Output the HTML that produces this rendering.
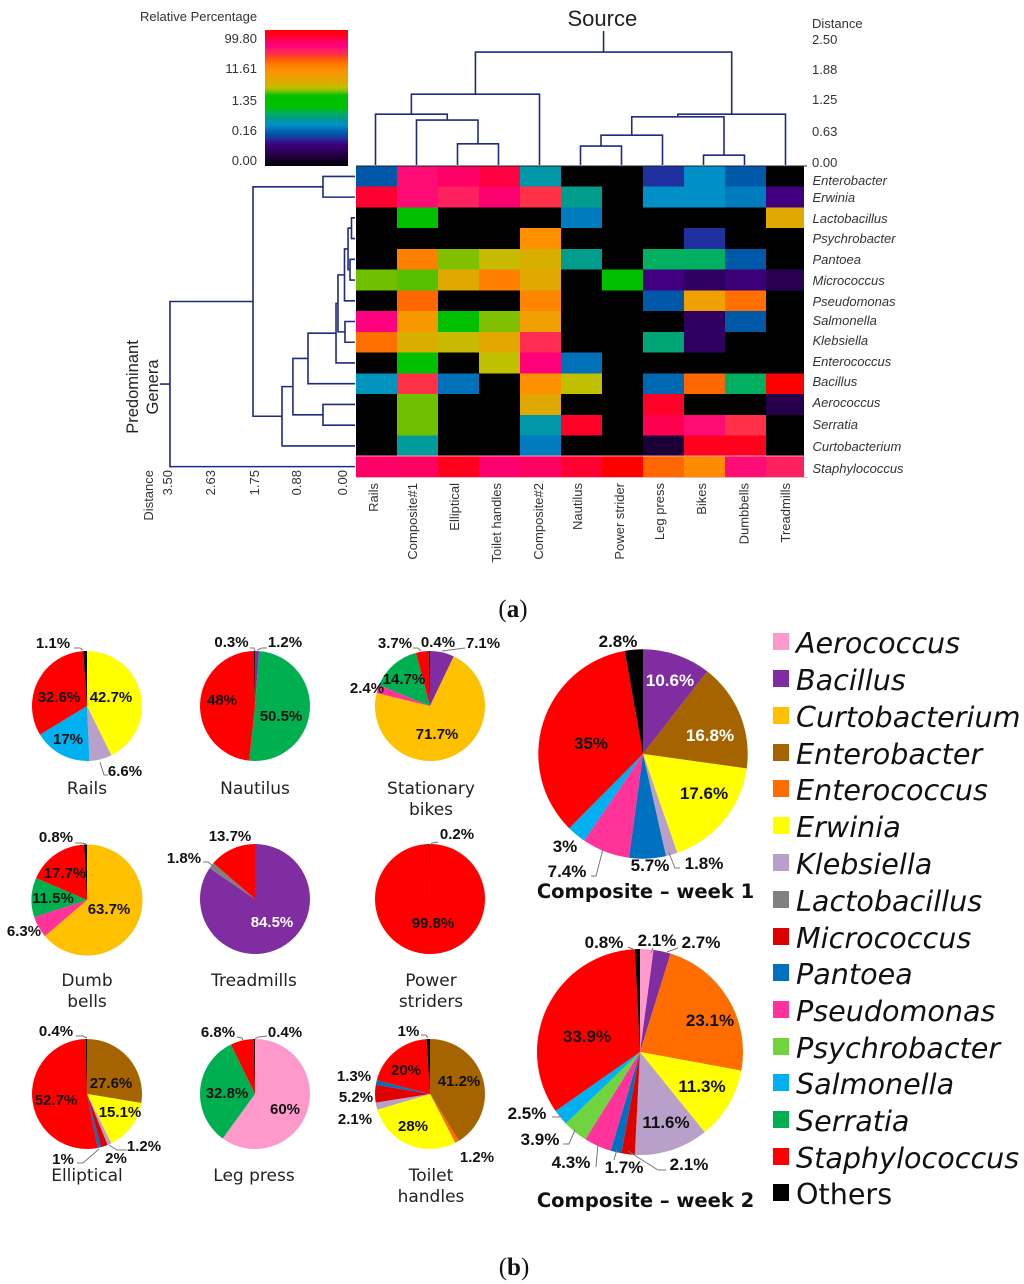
<!DOCTYPE html>
<html lang="en">
<head>
<meta charset="utf-8">
<title>Genera heatmap and pie charts</title>
<style>
html,body{margin:0;padding:0;background:#fff;}
svg{display:block;}
.ax{font-family:"Liberation Sans",sans-serif;font-size:13px;fill:#333;}
.sp{font-family:"Liberation Sans",sans-serif;font-size:13px;font-style:italic;fill:#333;}
.head{font-family:"Liberation Sans",sans-serif;fill:#222;}
.p{font-family:"Liberation Sans",sans-serif;font-weight:bold;font-size:15px;fill:#111;text-anchor:middle;}
.q{font-family:"Liberation Sans",sans-serif;font-weight:bold;font-size:17px;fill:#111;text-anchor:middle;}
.w{fill:#fff;}
.t{font-family:"DejaVu Sans",sans-serif;font-size:17px;fill:#222;text-anchor:middle;}
.ct{font-family:"DejaVu Sans",sans-serif;font-weight:bold;font-size:19.5px;fill:#111;text-anchor:middle;}
.lg{font-family:"DejaVu Sans",sans-serif;font-size:28.6px;font-style:italic;fill:#111;}
.cap{font-family:"Liberation Serif",serif;font-size:25px;fill:#111;text-anchor:middle;}
.ld{fill:none;stroke:#777;stroke-width:1;}
</style>
</head>
<body>
<svg xmlns="http://www.w3.org/2000/svg" width="1024" height="1284" viewBox="0 0 1024 1284">
<defs><linearGradient id="scaleGradient" x1="0" y1="1" x2="0" y2="0"></linearGradient></defs>
<rect width="1024" height="1284" fill="#fff"/>

<g id="heatPanel">
<text class="ax" x="140" y="21">Relative Percentage</text>
<rect id="colorBar" x="265" y="30" width="83" height="136" fill="url(#scaleGradient)"/>
<g text-anchor="end">
<text class="ax" x="257" y="43">99.80</text>
<text class="ax" x="257" y="73">11.61</text>
<text class="ax" x="257" y="105">1.35</text>
<text class="ax" x="257" y="135">0.16</text>
<text class="ax" x="257" y="165">0.00</text>
</g>
<text class="head" x="567.5" y="26" font-size="22">Source</text>
<text class="ax" x="812" y="28">Distance</text>
<text class="ax" x="812" y="44">2.50</text>
<text class="ax" x="812" y="74">1.88</text>
<text class="ax" x="812" y="104">1.25</text>
<text class="ax" x="812" y="136">0.63</text>
<text class="ax" x="812" y="167">0.00</text>

<g id="heatCells"></g>
<line x1="356" y1="166" x2="807" y2="166" stroke="#222" stroke-width="1"/>
<line x1="356" y1="456" x2="804" y2="456" stroke="#f7a0b0" stroke-width="1"/>
<line x1="356" y1="477.5" x2="807" y2="477.5" stroke="#f8b0b8" stroke-width="1"/>
<g id="topDendrogram" fill="none" stroke="#1f2a80" stroke-width="1.6"></g>
<g id="leftDendrogram" fill="none" stroke="#1f2a80" stroke-width="1.6"></g>

<text class="sp" x="812.5" y="185">Enterobacter</text>
<text class="sp" x="812.5" y="202">Erwinia</text>
<text class="sp" x="812.5" y="223">Lactobacillus</text>
<text class="sp" x="812.5" y="243">Psychrobacter</text>
<text class="sp" x="812.5" y="264">Pantoea</text>
<text class="sp" x="812.5" y="285">Micrococcus</text>
<text class="sp" x="812.5" y="306">Pseudomonas</text>
<text class="sp" x="812.5" y="325">Salmonella</text>
<text class="sp" x="812.5" y="345">Klebsiella</text>
<text class="sp" x="812.5" y="366">Enterococcus</text>
<text class="sp" x="812.5" y="386">Bacillus</text>
<text class="sp" x="812.5" y="407">Aerococcus</text>
<text class="sp" x="812.5" y="429">Serratia</text>
<text class="sp" x="812.5" y="451">Curtobacterium</text>
<text class="sp" x="812.5" y="473">Staphylococcus</text>

<g text-anchor="end">
<text class="ax" transform="translate(378,483) rotate(-90)">Rails</text>
<text class="ax" transform="translate(417,483) rotate(-90)">Composite#1</text>
<text class="ax" transform="translate(459,483) rotate(-90)">Elliptical</text>
<text class="ax" transform="translate(501,483) rotate(-90)">Toilet handles</text>
<text class="ax" transform="translate(543,483) rotate(-90)">Composite#2</text>
<text class="ax" transform="translate(582,483) rotate(-90)">Nautilus</text>
<text class="ax" transform="translate(624,483) rotate(-90)">Power strider</text>
<text class="ax" transform="translate(664,483) rotate(-90)">Leg press</text>
<text class="ax" transform="translate(706,483) rotate(-90)">Bikes</text>
<text class="ax" transform="translate(748.7,483) rotate(-90)">Dumbbells</text>
<text class="ax" transform="translate(790,483) rotate(-90)">Treadmills</text>
<text class="ax" transform="translate(153,470) rotate(-90)">Distance</text>
<text class="ax" transform="translate(172,470) rotate(-90)">3.50</text>
<text class="ax" transform="translate(215,470) rotate(-90)">2.63</text>
<text class="ax" transform="translate(259,470) rotate(-90)">1.75</text>
<text class="ax" transform="translate(301,470) rotate(-90)">0.88</text>
<text class="ax" transform="translate(347,470) rotate(-90)">0.00</text>
</g>
<g text-anchor="middle">
<text class="head" font-size="16.5" transform="translate(138,387) rotate(-90)">Predominant</text>
<text class="head" font-size="16.5" transform="translate(158,387) rotate(-90)">Genera</text>
</g>
<text class="cap" x="513" y="617">(<tspan font-weight="bold">a</tspan>)</text>
</g>

<g id="pies"></g>

<g id="pieLeaders">
<polyline class="ld" points="74,648 80,648 83,650"/>
<polyline class="ld" points="100,762 104,775 108,775"/>
<polyline class="ld" points="250,648 254,648 255,651"/>
<polyline class="ld" points="267,648 262,648 257,650"/>
<polyline class="ld" points="413,648 418,648 421,651"/>
<polyline class="ld" points="465,648 450,650 442,651"/>
<polyline class="ld" points="75,843 82,843 86,844"/>
<polyline class="ld" points="203,862 208,862 213,866"/>
<polyline class="ld" points="438,842 432,843 430,845"/>
<polyline class="ld" points="76,1036 83,1036 87,1038"/>
<polyline class="ld" points="127,1150 117,1150 109,1145"/>
<polyline class="ld" points="77,1163 83,1163 99,1149"/>
<polyline class="ld" points="237,1037 242,1038 243,1040"/>
<polyline class="ld" points="267,1036 258,1037 255,1039"/>
<polyline class="ld" points="421,1035 426,1035 428,1038"/>
<polyline class="ld" points="591,876 596,876 603,849"/>
<polyline class="ld" points="680,868 675,868 669,853"/>
<polyline class="ld" points="628,947 635,950"/>
<polyline class="ld" points="653,948 651,953"/>
<polyline class="ld" points="678,948 667,952"/>
<polyline class="ld" points="552,1117 559,1117 563,1115"/>
<polyline class="ld" points="563,1144 569,1144 575,1130"/>
<polyline class="ld" points="596,1167 598,1143"/>
<polyline class="ld" points="614,1160 617,1149"/>
<polyline class="ld" points="666,1170 658,1170 628,1151"/>
</g>

<g id="pieLabels">
<text class="p" x="53" y="648">1.1%</text>
<text class="p" x="59" y="702">32.6%</text>
<text class="p" x="111" y="702">42.7%</text>
<text class="p" x="68" y="744">17%</text>
<text class="p" x="125" y="776">6.6%</text>
<text class="t" x="87" y="794">Rails</text>

<text class="p" x="231.5" y="647">0.3%</text>
<text class="p" x="285" y="647">1.2%</text>
<text class="p" x="222" y="705">48%</text>
<text class="p" x="281" y="721">50.5%</text>
<text class="t" x="255" y="794">Nautilus</text>

<text class="p" x="395" y="648">3.7%</text>
<text class="p" x="438" y="647">0.4%</text>
<text class="p" x="483" y="648">7.1%</text>
<text class="p" x="404" y="684">14.7%</text>
<text class="p" x="367" y="693">2.4%</text>
<text class="p" x="437" y="739">71.7%</text>
<text class="t" x="431" y="794">Stationary</text>
<text class="t" x="431" y="815">bikes</text>

<text class="p" x="56" y="842">0.8%</text>
<text class="p" x="65" y="878">17.7%</text>
<text class="p" x="53" y="903">11.5%</text>
<text class="p" x="109" y="914">63.7%</text>
<text class="p" x="24" y="936">6.3%</text>
<text class="t" x="87" y="986">Dumb</text>
<text class="t" x="87" y="1007">bells</text>

<text class="p" x="230" y="841">13.7%</text>
<text class="p" x="184" y="863">1.8%</text>
<text class="p w" x="272" y="927">84.5%</text>
<text class="t" x="254" y="986">Treadmills</text>

<text class="p" x="457" y="839">0.2%</text>
<text class="p" x="433" y="928">99.8%</text>
<text class="t" x="431" y="986">Power</text>
<text class="t" x="431" y="1007">striders</text>

<text class="p" x="56" y="1036">0.4%</text>
<text class="p" x="111" y="1088">27.6%</text>
<text class="p" x="56" y="1105">52.7%</text>
<text class="p" x="120" y="1117">15.1%</text>
<text class="p" x="144" y="1151">1.2%</text>
<text class="p" x="116" y="1163">2%</text>
<text class="p" x="63" y="1164">1%</text>
<text class="t" x="87" y="1181">Elliptical</text>

<text class="p" x="218" y="1037">6.8%</text>
<text class="p" x="285" y="1037">0.4%</text>
<text class="p" x="227" y="1098">32.8%</text>
<text class="p" x="285" y="1114">60%</text>
<text class="t" x="254" y="1181">Leg press</text>

<text class="p" x="408.5" y="1036">1%</text>
<text class="p" x="406" y="1075">20%</text>
<text class="p" x="459" y="1086">41.2%</text>
<text class="p" x="354" y="1081">1.3%</text>
<text class="p" x="356" y="1102">5.2%</text>
<text class="p" x="355" y="1124">2.1%</text>
<text class="p" x="413" y="1131">28%</text>
<text class="p" x="477" y="1162">1.2%</text>
<text class="t" x="431" y="1181">Toilet</text>
<text class="t" x="431" y="1202">handles</text>

<text class="q" x="618" y="647">2.8%</text>
<text class="q w" x="670" y="686">10.6%</text>
<text class="q w" x="710" y="741">16.8%</text>
<text class="q" x="591" y="749">35%</text>
<text class="q" x="704" y="799">17.6%</text>
<text class="q" x="565" y="852">3%</text>
<text class="q" x="567" y="877">7.4%</text>
<text class="q" x="650" y="871">5.7%</text>
<text class="q" x="704" y="869">1.8%</text>
<text class="ct" x="645.5" y="898">Composite – week 1</text>

<text class="q" x="604" y="948">0.8%</text>
<text class="q" x="657" y="946">2.1%</text>
<text class="q" x="701" y="948">2.7%</text>
<text class="q" x="710" y="1026">23.1%</text>
<text class="q" x="587" y="1042">33.9%</text>
<text class="q" x="702" y="1092">11.3%</text>
<text class="q" x="666" y="1128">11.6%</text>
<text class="q" x="527" y="1119">2.5%</text>
<text class="q" x="540" y="1145">3.9%</text>
<text class="q" x="571" y="1168">4.3%</text>
<text class="q" x="624" y="1173">1.7%</text>
<text class="q" x="689" y="1170">2.1%</text>
<text class="ct" x="645.5" y="1207">Composite – week 2</text>
</g>

<g id="legend">
<rect x="773" y="633" width="16" height="17" fill="#ff99cc"/>
<text class="lg" x="796" y="653">Aerococcus</text>
<rect x="773" y="670" width="16" height="17" fill="#7f2da0"/>
<text class="lg" x="796" y="690">Bacillus</text>
<rect x="773" y="707" width="16" height="17" fill="#ffc000"/>
<text class="lg" x="796" y="727">Curtobacterium</text>
<rect x="773" y="744" width="16" height="17" fill="#a66400"/>
<text class="lg" x="796" y="764">Enterobacter</text>
<rect x="773" y="780" width="16" height="17" fill="#ff6d00"/>
<text class="lg" x="796" y="800">Enterococcus</text>
<rect x="773" y="817" width="16" height="17" fill="#ffff00"/>
<text class="lg" x="796" y="837">Erwinia</text>
<rect x="773" y="854" width="16" height="17" fill="#b9a0cb"/>
<text class="lg" x="796" y="874">Klebsiella</text>
<rect x="773" y="891" width="16" height="17" fill="#808080"/>
<text class="lg" x="796" y="911">Lactobacillus</text>
<rect x="773" y="928" width="16" height="17" fill="#e00000"/>
<text class="lg" x="796" y="948">Micrococcus</text>
<rect x="773" y="964" width="16" height="17" fill="#0070c0"/>
<text class="lg" x="796" y="984">Pantoea</text>
<rect x="773" y="1001" width="16" height="17" fill="#ff3399"/>
<text class="lg" x="796" y="1021">Pseudomonas</text>
<rect x="773" y="1038" width="16" height="17" fill="#70d440"/>
<text class="lg" x="796" y="1058">Psychrobacter</text>
<rect x="773" y="1074" width="16" height="17" fill="#00b0f0"/>
<text class="lg" x="796" y="1094">Salmonella</text>
<rect x="773" y="1111" width="16" height="17" fill="#00b050"/>
<text class="lg" x="796" y="1131">Serratia</text>
<rect x="773" y="1148" width="16" height="17" fill="#ff0000"/>
<text class="lg" x="796" y="1168">Staphylococcus</text>
<rect x="773" y="1184" width="16" height="17" fill="#000000"/>
<text class="lg" x="796" y="1204" style="font-style:normal">Others</text>
</g>
<text class="cap" x="514" y="1275">(<tspan font-weight="bold">b</tspan>)</text>
</svg>

<script>
// ---- Heatmap data ----
const sources = ["Rails","Composite#1","Elliptical","Toilet handles","Composite#2","Nautilus","Power strider","Leg press","Bikes","Dumbbells","Treadmills"];
const generaRows = ["Enterobacter","Erwinia","Lactobacillus","Psychrobacter","Pantoea","Micrococcus","Pseudomonas","Salmonella","Klebsiella","Enterococcus","Bacillus","Aerococcus","Serratia","Curtobacterium","Staphylococcus"];
// Abundance level of each cell on the colour scale (0 = 0.00 %, 1 = 99.80 %)
const rowEnterobacter  = [.24,.87,.91,.94,.33,0,0,.20,.30,.24,0];
const rowErwinia       = [.95,.87,.85,.90,.82,.35,0,.30,.30,.28,.16];
const rowLactobacillus = [0,.47,0,0,0,.28,0,0,0,0,.62];
const rowPsychrobacter = [0,0,0,0,.70,0,0,0,.20,0,0];
const rowPantoea       = [0,.74,.55,.59,.61,.35,0,.39,.39,.24,0];
const rowMicrococcus   = [.546,.54,.62,.74,.62,0,.47,.16,.12,.15,.10];
const rowPseudomonas   = [0,.77,0,0,.73,0,0,.24,.66,.76,0];
const rowSalmonella    = [.88,.68,.47,.55,.66,0,0,0,.12,.24,0];
const rowKlebsiella    = [.76,.61,.59,.63,.83,0,0,.37,.12,0,0];
const rowEnterococcus  = [0,.47,0,.58,.89,.27,0,0,0,0,0];
const rowBacillus      = [.31,.82,.27,0,.70,.58,0,.26,.77,.39,1];
const rowAerococcus    = [0,.546,0,0,.62,0,0,.96,0,0,.09];
const rowSerratia      = [0,.546,0,0,.33,.96,0,.93,.87,.82,0];
const rowCurtobacterium= [0,.34,0,0,.28,0,0,.06,.97,.97,0];
const rowStaphylococcus= [.91,.92,.97,.90,.92,.95,1,.77,.71,.87,.85];
const heatRows = [rowEnterobacter,rowErwinia,rowLactobacillus,rowPsychrobacter,rowPantoea,rowMicrococcus,rowPseudomonas,rowSalmonella,rowKlebsiella,rowEnterococcus,rowBacillus,rowAerococcus,rowSerratia,rowCurtobacterium,rowStaphylococcus];
const scaleLevels = [0,.07,.12,.16,.20,.24,.27,.30,.33,.36,.39,.43,.52,.55,.58,.62,.66,.70,.74,.78,.82,.85,.88,.92,.95,1];
const scaleColors = ["#000000","#200040","#300060","#400080","#2030a0","#0058a8","#0070b8","#0090c8","#0098a8","#00a080","#00b060","#00c000","#00c000","#80c000","#c0c000","#e0a800","#f0a000","#ff9000","#ff8000","#ff6000","#ff3048","#ff2060","#ff0080","#ff0060","#ff0030","#ff0000"];

// ---- Dendrogram data: [child a, child b, distance]; children < 100 are leaves, >= 100 are earlier merges ----
const sourceMerges = [[2,3,.41],[1,100,.85],[0,101,.96],[102,4,1.33],[5,6,.37],[104,7,.57],[8,9,.20],[105,106,.91],[107,10,.96],[103,108,2.11]];
const generaMerges = [[2,3,.085],[4,5,.113],[100,101,.15],[102,6,.217],[7,8,.208],[103,104,.34],[105,9,.377],[106,10,.906],[11,12,.623],[107,108,1.19],[109,13,1.396],[0,1,.623],[111,110,1.943],[112,14,3.51]];
const sourceRootDistance = 2.5;
const generaRootDistance = 3.7;

// ---- Pie data ----
const railsGenera = ["Erwinia","Klebsiella","Salmonella","Staphylococcus","Others"];
const railsValues = [42.7,6.6,17,32.6,1.1];
const nautilusGenera = ["Bacillus","Serratia","Staphylococcus","Others"];
const nautilusValues = [1.2,50.5,48,.3];
const bikesGenera = ["Bacillus","Curtobacterium","Pseudomonas","Serratia","Staphylococcus","Others"];
const bikesValues = [7.1,71.7,2.4,14.7,3.7,.4];
const dumbbellsGenera = ["Curtobacterium","Pseudomonas","Serratia","Staphylococcus","Others"];
const dumbbellsValues = [63.7,6.3,11.5,17.7,.8];
const treadmillsGenera = ["Bacillus","Lactobacillus","Staphylococcus"];
const treadmillsValues = [84.5,1.8,13.7];
const powerGenera = ["Staphylococcus","Others"];
const powerValues = [99.8,.2];
const ellipticalGenera = ["Enterobacter","Erwinia","Klebsiella","Micrococcus","Pantoea","Staphylococcus","Others"];
const ellipticalValues = [27.6,15.1,1.2,2,1,52.7,.4];
const legGenera = ["Aerococcus","Serratia","Staphylococcus","Others"];
const legValues = [60,32.8,6.8,.4];
const toiletGenera = ["Enterobacter","Enterococcus","Erwinia","Klebsiella","Micrococcus","Pantoea","Staphylococcus","Others"];
const toiletValues = [41.2,1.2,28,2.1,5.2,1.3,20,1];
const week1Genera = ["Bacillus","Enterobacter","Erwinia","Klebsiella","Pantoea","Pseudomonas","Salmonella","Staphylococcus","Others"];
const week1Values = [10.6,16.8,17.6,1.8,5.7,7.4,3,35,2.8];
const week2Genera = ["Aerococcus","Bacillus","Enterococcus","Erwinia","Klebsiella","Micrococcus","Pantoea","Pseudomonas","Psychrobacter","Salmonella","Staphylococcus","Others"];
const week2Values = [2.1,2.7,23.1,11.3,11.6,2.1,1.7,4.3,3.9,2.5,33.9,.8];
const genusColors = {Aerococcus:"#ff99cc",Bacillus:"#7f2da0",Curtobacterium:"#ffc000",Enterobacter:"#a66400",Enterococcus:"#ff6d00",Erwinia:"#ffff00",Klebsiella:"#b9a0cb",Lactobacillus:"#808080",Micrococcus:"#e00000",Pantoea:"#0070c0",Pseudomonas:"#ff3399",Psychrobacter:"#70d440",Salmonella:"#00b0f0",Serratia:"#00b050",Staphylococcus:"#ff0000",Others:"#000000"};

const NS = "http://www.w3.org/2000/svg";
function svgEl(tag, parent){
  const el = document.createElementNS(NS, tag);
  parent.appendChild(el);
  return el;
}
function hexToRgb(h){return [1,3,5].map(i=>parseInt(h.substr(i,2),16));}
function levelColor(t){
  let i = 0;
  while(i < scaleLevels.length-2 && t > scaleLevels[i+1]) i++;
  const f = Math.max(0,Math.min(1,(t-scaleLevels[i])/(scaleLevels[i+1]-scaleLevels[i])));
  const a = hexToRgb(scaleColors[i]), b = hexToRgb(scaleColors[i+1]);
  return "rgb("+a.map((v,k)=>Math.round(v+(b[k]-v)*f)).join(",")+")";
}

// colour scale bar
const grad = document.getElementById("scaleGradient");
scaleLevels.forEach((lv,i)=>{
  const s = svgEl("stop", grad);
  s.setAttribute("offset", lv);
  s.setAttribute("stop-color", scaleColors[i]);
});

// axes of the heatmap
const colX = i => 356 + 41*i;
const rowY = i => 166 + 20.73*i;
const HEAT_RIGHT = 804;
const cellsG = document.getElementById("heatCells");
heatRows.forEach((row,r)=>{
  row.forEach((lv,c)=>{
    const x0 = colX(c), x1 = Math.min(colX(c+1),HEAT_RIGHT);
    const rect = svgEl("rect", cellsG);
    rect.setAttribute("x", x0);
    rect.setAttribute("y", rowY(r));
    rect.setAttribute("width", x1-x0);
    rect.setAttribute("height", 20.73);
    rect.setAttribute("fill", levelColor(lv));
    rect.setAttribute("shape-rendering", "crispEdges");
    
    
  });
});

// dendrogram drawing through distance axes
const topDistY = d => 166 - 54*d;
const leftDistX = d => 356 - 53*d;
function drawDendrogram(group, merges, leafPos, distPos, vertical, rootDist, prefix){
  const centers = {}, heights = {};
  const at = k => k < 100 ? leafPos(k) : centers[k];
  const ht = k => k < 100 ? distPos(0)-1 : heights[k];
  merges.forEach((m,i)=>{
    const a = at(m[0]), b = at(m[1]), h = distPos(m[2]);
    const p = svgEl("path", group);
    const d = vertical
      ? "M"+a+" "+ht(m[0])+"V"+h+"H"+b+"V"+ht(m[1])
      : "M"+ht(m[0])+" "+a+"H"+h+"V"+b+"H"+ht(m[1]);
    p.setAttribute("d", d);
    
    
    centers[100+i] = (a+b)/2;
    heights[100+i] = h;
  });
  const last = 100+merges.length-1;
  const stem = svgEl("path", group);
  stem.setAttribute("d", vertical
    ? "M"+centers[last]+" "+heights[last]+"V"+distPos(rootDist)
    : "M"+heights[last]+" "+centers[last]+"H"+distPos(rootDist));
  
  
}
drawDendrogram(document.getElementById("topDendrogram"), sourceMerges, i=>colX(i)+19.5, topDistY, true, sourceRootDistance, "source");
drawDendrogram(document.getElementById("leftDendrogram"), generaMerges, i=>rowY(i)+10.4, leftDistX, false, generaRootDistance, "genera");

// pies
const piesG = document.getElementById("pies");
function drawPie(name, genera, values, cx, cy, r){
  const total = values.reduce((a,b)=>a+b,0);
  const g = svgEl("g", piesG);
  
  
  let acc = 0;
  values.forEach((v,i)=>{
    const a0 = acc/total*2*Math.PI; acc += v;
    const a1 = acc/total*2*Math.PI;
    const p = svgEl("path", g);
    const x0 = cx+r*Math.sin(a0), y0 = cy-r*Math.cos(a0);
    const x1 = cx+r*Math.sin(a1), y1 = cy-r*Math.cos(a1);
    p.setAttribute("d","M"+cx+" "+cy+"L"+x0+" "+y0+"A"+r+" "+r+" 0 "+(a1-a0>Math.PI?1:0)+" 1 "+x1+" "+y1+"Z");
    p.setAttribute("fill", genusColors[genera[i]]);
    
    
  });
}
drawPie("rails", railsGenera, railsValues, 87, 706, 55);
drawPie("nautilus", nautilusGenera, nautilusValues, 255, 706, 55);
drawPie("stationary-bikes", bikesGenera, bikesValues, 430, 706, 55);
drawPie("dumb-bells", dumbbellsGenera, dumbbellsValues, 87, 900, 55.5);
drawPie("treadmills", treadmillsGenera, treadmillsValues, 255, 899, 55);
drawPie("power-striders", powerGenera, powerValues, 430, 899, 55);
drawPie("elliptical", ellipticalGenera, ellipticalValues, 87, 1094, 55);
drawPie("leg-press", legGenera, legValues, 255, 1094, 55);
drawPie("toilet-handles", toiletGenera, toiletValues, 430, 1094, 55);
drawPie("composite-week-1", week1Genera, week1Values, 643, 754, 104.7);
drawPie("composite-week-2", week2Genera, week2Values, 640, 1052, 103);
</script>
</body>
</html>
